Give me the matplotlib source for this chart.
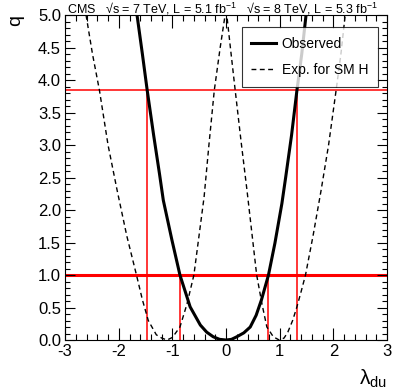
import matplotlib
matplotlib.use("Agg")
import matplotlib.pyplot as plt
from matplotlib.ticker import MultipleLocator

plt.rcParams['font.family'] = ['Liberation Sans', 'DejaVu Sans']
plt.rcParams['mathtext.fontset'] = 'custom'
plt.rcParams['mathtext.rm'] = 'Liberation Sans'
plt.rcParams['mathtext.it'] = 'Liberation Sans:italic'
plt.rcParams['mathtext.default'] = 'regular'
plt.rcParams['axes.unicode_minus'] = False

# observed q vs lambda_du
obs_x = [-1.66, -1.56, -1.47, -1.35, -1.24, -1.17, -1.01, -0.86, -0.67, -0.48,
         -0.36, -0.24, -0.12, 0.0, 0.10, 0.20, 0.33, 0.45, 0.56, 0.66,
         0.79, 0.91, 1.04, 1.11, 1.22, 1.32, 1.41, 1.49]
obs_q = [5.0, 4.4, 3.84, 3.15, 2.55, 2.15, 1.54, 1.0, 0.51, 0.23,
         0.12, 0.05, 0.01, 0.0, 0.01, 0.05, 0.11, 0.20, 0.38, 0.62,
         1.0, 1.49, 2.1, 2.5, 3.15, 3.84, 4.4, 5.0]

# expected for SM Higgs
exp_x = [-2.61, -2.49, -2.36, -2.20, -2.03, -1.85, -1.67, -1.56, -1.45, -1.30,
         -1.20, -1.10, -1.00, -0.86, -0.73, -0.60, -0.41, -0.32, -0.22, -0.11,
         0.0, 0.08, 0.17, 0.28, 0.39, 0.57, 0.67, 0.76, 0.88, 0.99,
         1.08, 1.15, 1.24, 1.32, 1.40, 1.48, 1.62, 1.77, 1.91, 2.05,
         2.14, 2.22]
exp_q = [5.0, 4.4, 3.84, 3.0, 2.3, 1.6, 1.0, 0.62, 0.30, 0.08,
         0.03, 0.0, 0.04, 0.20, 0.55, 1.0, 2.2, 3.0, 3.84, 4.5,
         5.1, 4.5, 3.84, 3.05, 2.3, 1.0, 0.55, 0.2, 0.05, 0.0,
         0.03, 0.12, 0.30, 0.51, 0.75, 1.0, 1.6, 2.3, 3.0, 3.84,
         4.4, 5.0]

# 68% and 95% CL crossings of the observed curve
cl_levels = [1.0, 3.84]
cl_widths = [2.2, 1.1]
cross_x = [-0.86, 0.79, -1.47, 1.32]
cross_q = [1.0, 1.0, 3.84, 3.84]

fig = plt.figure(figsize=(4.07, 3.91), dpi=100)
ax = fig.add_axes([0.16, 0.1304, 0.791, 0.8312])

for lev, w in zip(cl_levels, cl_widths):
    ax.axhline(lev, color='red', lw=w, zorder=1)
for cx, cq in zip(cross_x, cross_q):
    ax.plot([cx, cx], [0, cq], color='red', lw=1.1, zorder=1)

ax.plot(obs_x, obs_q, color='black', lw=2.2, label='Observed', zorder=3)
ax.plot(exp_x, exp_q, color='black', lw=1.0, linestyle=(0, (3.5, 2.5)),
        label='Exp. for SM H', zorder=2)

ax.set_xlim(-3, 3)
ax.set_ylim(0, 5)
ax.xaxis.set_major_locator(MultipleLocator(1))
ax.xaxis.set_minor_locator(MultipleLocator(0.2))
ax.yaxis.set_major_locator(MultipleLocator(0.5))
ax.yaxis.set_minor_locator(MultipleLocator(0.1))
ax.yaxis.set_major_formatter(plt.FormatStrFormatter('%.1f'))
ax.tick_params(which='both', direction='in', top=True, right=True,
               labelsize=12, width=0.8)
ax.tick_params(axis='x', which='major', length=9, pad=3)
ax.tick_params(axis='x', which='minor', length=4.5)
ax.tick_params(axis='y', which='major', length=7, pad=3)
ax.tick_params(axis='y', which='minor', length=3.5)

ax.set_ylabel('q', fontsize=14, loc='top', labelpad=10)
ax.set_xlabel(r'$\lambda_{du}$', fontsize=15, loc='right', labelpad=6)

ax.text(0.005, 1.004,
        'CMS   √s = 7 TeV, L = 5.1 fb$^{-1}$   √s = 8 TeV, L = 5.3 fb$^{-1}$',
        transform=ax.transAxes, fontsize=9, va='baseline', ha='left')

leg = ax.legend(loc='upper right', bbox_to_anchor=(0.972, 0.963), fontsize=10,
                frameon=True, fancybox=False, edgecolor='black',
                handlelength=1.8, handletextpad=0.4, labelspacing=0.9,
                borderpad=0.7, borderaxespad=0)
leg.get_frame().set_linewidth(0.8)

fig.savefig('out.png', dpi=100)
